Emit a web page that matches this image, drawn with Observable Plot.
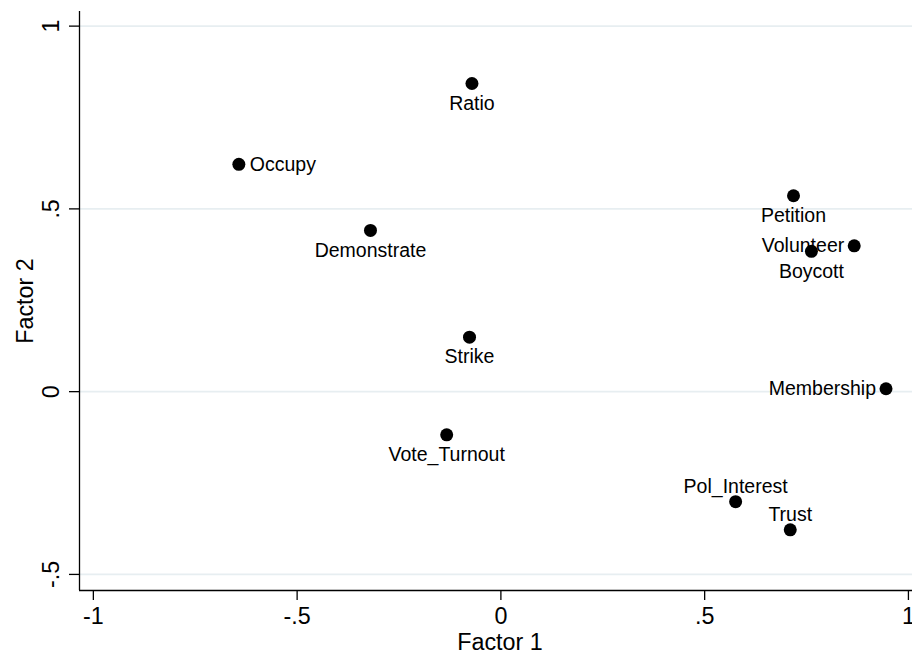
<!DOCTYPE html>
<html>
<head>
<meta charset="utf-8">
<script src="https://cdn.jsdelivr.net/npm/d3@7"></script>
<script src="https://cdn.jsdelivr.net/npm/@observablehq/plot@0.6"></script>
<style>
  html, body { margin: 0; padding: 0; background: #fff; }
  #chart svg { display: block; }
</style>
</head>
<body>
<div id="chart"></div>
<script>
// ---- data ----
const variables = ["Ratio", "Occupy", "Demonstrate", "Strike", "Vote_Turnout", "Petition",
                   "Volunteer", "Boycott", "Membership", "Pol_Interest", "Trust"];
const factor1 = [-0.071, -0.643, -0.320, -0.077, -0.133, 0.718, 0.867, 0.762, 0.945, 0.576, 0.710];
const factor2 = [0.843, 0.622, 0.441, 0.149, -0.118, 0.536, 0.399, 0.384, 0.008, -0.301, -0.378];
const xTicks = [-1, -0.5, 0, 0.5, 1];
const yTicks = [-0.5, 0, 0.5, 1];
const xTitle = "Factor 1";
const yTitle = "Factor 2";

// ---- label placement (style) ----
const labelSide = {
  Ratio: "below", Occupy: "right", Demonstrate: "below", Strike: "below",
  Vote_Turnout: "below", Petition: "below", Volunteer: "left", Boycott: "below",
  Membership: "left", Pol_Interest: "above", Trust: "above"
};

const rows = variables.map((name, i) => ({name, f1: factor1[i], f2: factor2[i], side: labelSide[name]}));
const fmt = d => d === 0 ? "0" : String(d).replace("0.", ".");

const font = "'Liberation Sans', Arial, Helvetica, sans-serif";
const gridColor = "#e7eef1";
const xDomain = [-1.034, 1.01];
const yDomain = [-0.544, 1.04];

const labelFont = 19.5;
const axisFont = 23.3;
const textMark = (side, opts) => Plot.text(rows.filter(d => d.side === side), {
  x: "f1", y: "f2", text: "name", fontSize: labelFont, fill: "#000", ...opts
});

const chart = Plot.plot({
  width: 912,
  height: 655,
  marginLeft: 79,
  marginRight: 0,
  marginTop: 11,
  marginBottom: 65,
  style: {fontFamily: font, background: "#fff", color: "#000"},
  x: {domain: xDomain},
  y: {domain: yDomain},
  marks: [
    Plot.ruleY(yTicks, {stroke: gridColor, strokeWidth: 1.6}),
    Plot.ruleX([xDomain[0]], {stroke: "#000", strokeWidth: 1.3}),
    Plot.ruleY([yDomain[0]], {stroke: "#000", strokeWidth: 1.3}),
    Plot.axisX({ticks: xTicks, tickFormat: fmt, tickSize: 10, tickPadding: 7,
                fontSize: axisFont, label: null, stroke: "#000", strokeWidth: 1.3}),
    Plot.axisY({ticks: yTicks, tickFormat: fmt, tickSize: 10, tickPadding: 11,
                tickRotate: -90, textAnchor: "middle", lineAnchor: "bottom",
                fontSize: axisFont, label: null, stroke: "#000", strokeWidth: 1.3}),
    Plot.text([xTitle], {frameAnchor: "bottom", dx: 4, dy: 43, lineAnchor: "top",
                         fontSize: axisFont, fill: "#000"}),
    Plot.text([yTitle], {frameAnchor: "left", dx: -47, rotate: -90, lineAnchor: "bottom",
                         textAnchor: "middle", fontSize: axisFont, fill: "#000"}),
    Plot.dot(rows, {x: "f1", y: "f2", r: 6.5, fill: "#000", stroke: "none"}),
    textMark("below", {dy: 20, textAnchor: "middle"}),
    textMark("above", {dy: -15, textAnchor: "middle"}),
    textMark("right", {dx: 11, textAnchor: "start"}),
    textMark("left", {dx: -10, textAnchor: "end"})
  ]
});
document.getElementById("chart").append(chart);
</script>
</body>
</html>
